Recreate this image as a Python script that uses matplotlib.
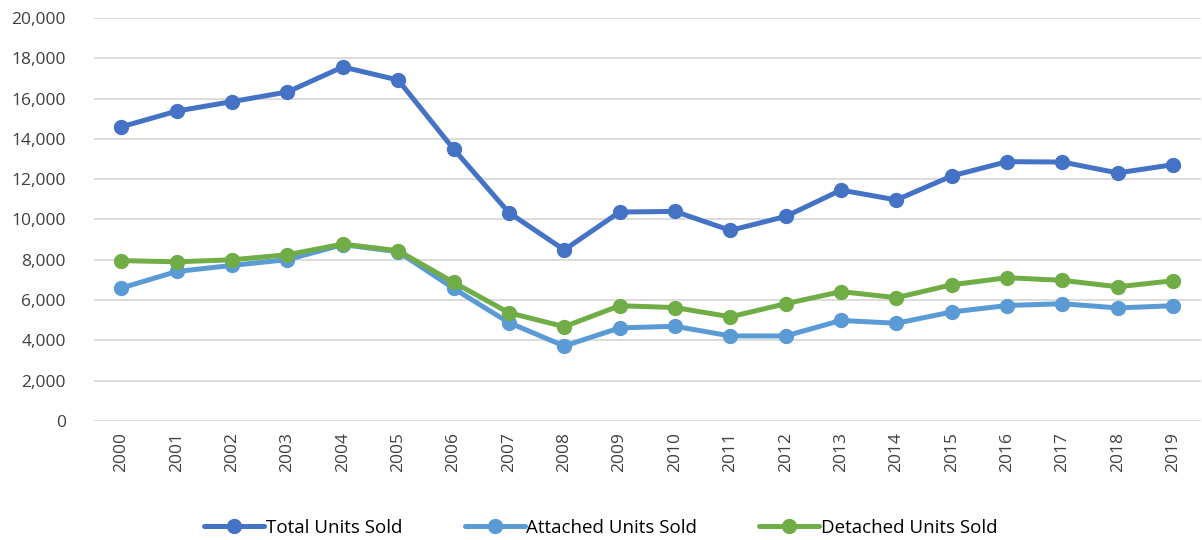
import numpy as np
import matplotlib
matplotlib.use("Agg")
import matplotlib.pyplot as plt
from matplotlib.ticker import FuncFormatter

years = [str(y) for y in range(2000, 2020)]
total_units = [14600, 15380, 15850, 16330, 17570, 16920, 13500, 10340, 8490, 10370,
               10400, 9460, 10150, 11460, 10970, 12160, 12870, 12850, 12310, 12720]
attached_units = [6600, 7420, 7720, 8010, 8750, 8400, 6580, 4880, 3720, 4620,
                  4700, 4220, 4220, 4990, 4850, 5410, 5730, 5820, 5610, 5720]
detached_units = [7960, 7900, 8000, 8250, 8780, 8450, 6880, 5370, 4680, 5720,
                  5630, 5170, 5820, 6420, 6120, 6760, 7110, 6980, 6660, 6960]

plt.rcParams["font.family"] = ["Open Sans", "DejaVu Sans"]

fig = plt.figure(figsize=(12.02, 5.40), dpi=100)
ax = fig.add_axes([0.078, 0.2204, 0.921, 0.7463])

x = np.arange(len(years))
series = [
    ("Total Units Sold", total_units, "#4472C4"),
    ("Attached Units Sold", attached_units, "#5B9BD5"),
    ("Detached Units Sold", detached_units, "#70AD47"),
]
for label, vals, color in series:
    ax.plot(x, vals, color=color, linewidth=3.6, marker="o", markersize=10,
            label=label, solid_capstyle="round")

ax.set_xlim(-0.5, len(years) - 0.5)
ax.set_ylim(0, 20000)
ax.set_yticks(np.arange(0, 20001, 2000))
ax.yaxis.set_major_formatter(FuncFormatter(lambda v, p: f"{int(v):,}"))
ax.set_xticks(x)
ax.set_xticklabels(years, rotation=90)
ax.tick_params(axis="both", length=0, labelsize=12.5, labelcolor="#404040")
ax.tick_params(axis="y", pad=20)
ax.tick_params(axis="x", pad=8)
ax.grid(axis="y", color="#D9D9D9", linewidth=1.3)
ax.set_axisbelow(True)
for s in ax.spines.values():
    s.set_visible(False)

fig.legend(loc="lower center", ncol=3, frameon=False, fontsize=13.5,
           bbox_to_anchor=(0.5, -0.025), handlelength=3.2, columnspacing=3.3,
           handletextpad=0.1)

fig.savefig("out.png", dpi=100)
